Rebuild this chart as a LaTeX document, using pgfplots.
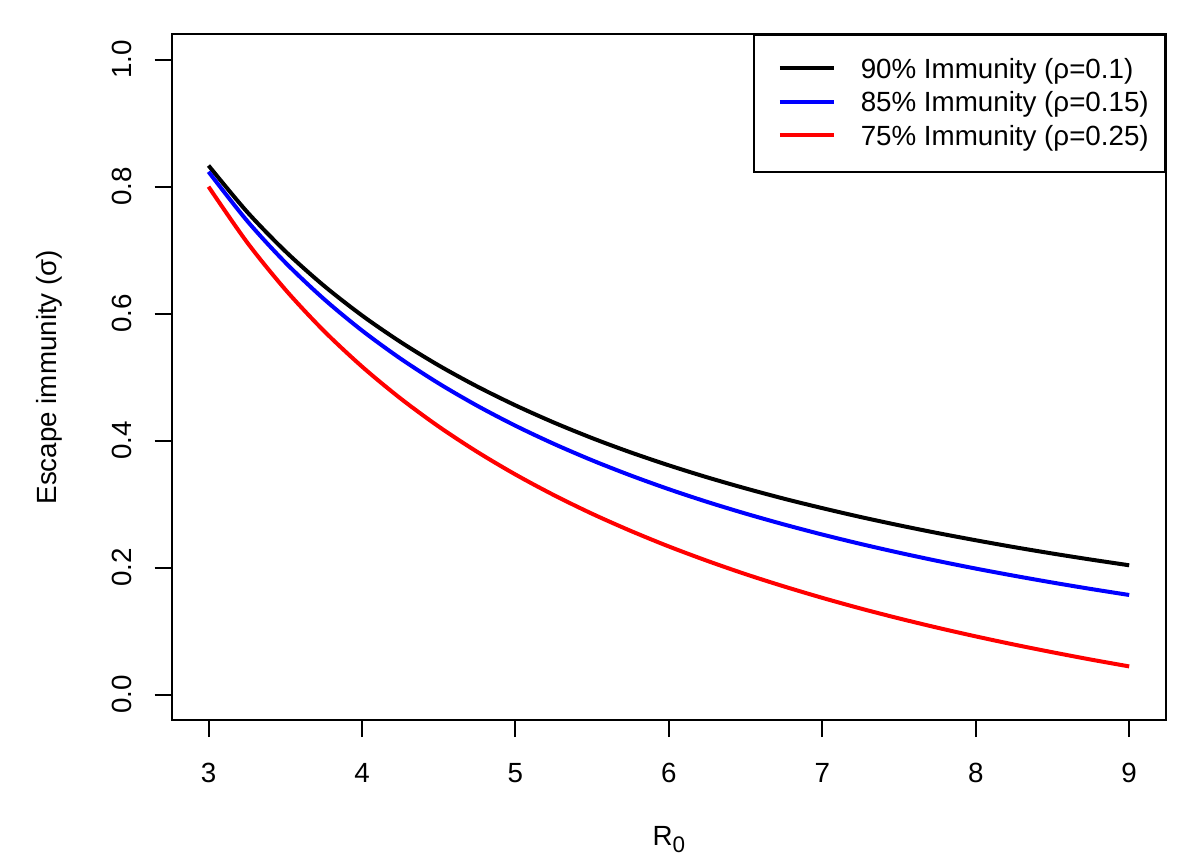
\documentclass[border=0pt]{standalone}
\usepackage{fontspec}
\setmainfont{Liberation Sans}
\usepackage{pgfplots}
\usepackage{pgfplotstable}
\pgfplotsset{compat=1.18}
\pgfplotstableread{
x y
3.00 0.8333
3.25 0.7607
3.50 0.6984
3.75 0.6444
4.00 0.5972
4.25 0.5556
4.50 0.5185
4.75 0.4854
5.00 0.4556
5.25 0.4286
5.50 0.4040
5.75 0.3816
6.00 0.3611
6.25 0.3422
6.50 0.3248
6.75 0.3086
7.00 0.2937
7.25 0.2797
7.50 0.2667
7.75 0.2545
8.00 0.2431
8.25 0.2323
8.50 0.2222
8.75 0.2127
9.00 0.2037
}\rhoone
\pgfplotstableread{
x y
3.00 0.8235
3.25 0.7466
3.50 0.6807
3.75 0.6235
4.00 0.5735
4.25 0.5294
4.50 0.4902
4.75 0.4551
5.00 0.4235
5.25 0.3950
5.50 0.3690
5.75 0.3453
6.00 0.3235
6.25 0.3035
6.50 0.2851
6.75 0.2680
7.00 0.2521
7.25 0.2373
7.50 0.2235
7.75 0.2106
8.00 0.1985
8.25 0.1872
8.50 0.1765
8.75 0.1664
9.00 0.1569
}\rhotwo
\pgfplotstableread{
x y
3.00 0.8000
3.25 0.7128
3.50 0.6381
3.75 0.5733
4.00 0.5167
4.25 0.4667
4.50 0.4222
4.75 0.3825
5.00 0.3467
5.25 0.3143
5.50 0.2848
5.75 0.2580
6.00 0.2333
6.25 0.2107
6.50 0.1897
6.75 0.1704
7.00 0.1524
7.25 0.1356
7.50 0.1200
7.75 0.1054
8.00 0.0917
8.25 0.0788
8.50 0.0667
8.75 0.0552
9.00 0.0444
}\rhothree
\begin{document}
\fontsize{11.1bp}{13.3bp}\selectfont
\begin{tikzpicture}
\useasboundingbox (-68.68bp,-54.8bp) rectangle (411.32bp,288.0bp);
\begin{axis}[
  at={(0,0)}, anchor=south west,
  scale only axis,
  width=397.72bp, height=274.28bp,
  xmin=2.76, xmax=9.24,
  ymin=-0.04, ymax=1.04,
  axis line style={line width=0.8bp},
  xtick={3,4,5,6,7,8,9},
  ytick={0,0.2,0.4,0.6,0.8,1.0},
  tick align=outside,
  tick pos=left,
  major tick length=6.8bp,
  every tick/.style={black, line width=0.8bp},
  /pgf/number format/assume math mode=true,
  yticklabel style={/pgf/number format/.cd, fixed, fixed zerofill, precision=1, /tikz/.cd},
  xticklabel style={anchor=base, inner sep=0pt, yshift=-18bp},
  yticklabel style={inner sep=0pt, xshift=-9.1bp, anchor=base, rotate=90},
  every axis x label/.style={at={(axis description cs:0.5,-0.1823)}, anchor=base},
  every axis y label/.style={at={(axis description cs:-0.1154,0.5)}, anchor=base, rotate=90},
  xlabel={R\raisebox{-0.28em}{\fontsize{9bp}{10bp}\selectfont 0}},
  ylabel={Escape immunity (σ)},
  legend cell align=left,
  legend style={at={(1,1)}, anchor=north east, draw=black, line width=0.8bp,
    inner xsep=6.5bp, inner ysep=7.3bp, column sep=10bp, row sep=0pt,
    nodes={inner sep=0pt, text height=9.8bp, text depth=3.6bp, line width=0.8bp}},
  legend image code/.code={\path (0bp,0.8bp); \draw[#1, line width=1.6bp] (3bp,0.8bp) -- (24.6bp,0.8bp);},
]
\addplot[black, line width=1.6bp, smooth] table[x=x,y=y] {\rhoone};
\addlegendentry{90\% Immunity (ρ=0.1)}
\addplot[blue, line width=1.6bp, smooth] table[x=x,y=y] {\rhotwo};
\addlegendentry{85\% Immunity (ρ=0.15)}
\addplot[red, line width=1.6bp, smooth] table[x=x,y=y] {\rhothree};
\addlegendentry{75\% Immunity (ρ=0.25)}
\end{axis}
\end{tikzpicture}
\end{document}
